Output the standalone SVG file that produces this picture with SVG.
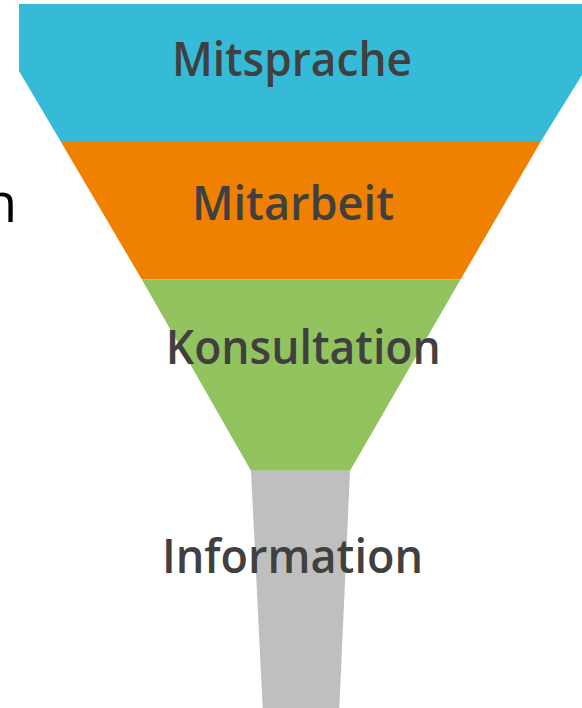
<svg xmlns="http://www.w3.org/2000/svg" width="582" height="708" viewBox="0 0 582 708">
  <style>
    .label { font-family: "Open Sans", "Noto Sans", "Liberation Sans", sans-serif; font-weight: 600; font-size: 47px; fill: #404040; text-anchor: middle; }
    .side { font-family: "Open Sans", "Noto Sans", "Liberation Sans", sans-serif; font-weight: 400; font-size: 54px; fill: #000000; text-anchor: end; }
  </style>
  <rect width="582" height="708" fill="#ffffff"/>

  <!-- cut-off word at the left margin -->
  <text class="side" x="17" y="222">n</text>

  <!-- funnel levels, top to bottom -->
  <g id="mitsprache">
    <polygon points="19,4 582,4 582,75 540.5,142 61,142 19,71" fill="#35BBD7"/>
    <text class="label" x="292" y="76" textLength="240" lengthAdjust="spacingAndGlyphs">Mitsprache</text>
  </g>
  <g id="mitarbeit">
    <polygon points="61,142 540.5,142 460.7,279.3 141.7,279.3" fill="#F08000"/>
    <text class="label" x="293" y="220" textLength="202" lengthAdjust="spacingAndGlyphs">Mitarbeit</text>
  </g>
  <g id="konsultation">
    <polygon points="141.7,279.3 460.7,279.3 350,470.7 251,470.7" fill="#92C35F"/>
    <text class="label" x="303.3" y="364" textLength="275" lengthAdjust="spacingAndGlyphs">Konsultation</text>
  </g>
  <g id="information">
    <polygon points="251,470.7 350,470.7 339.3,708 262.7,708" fill="#BFBFBF"/>
    <text class="label" x="292.5" y="572.7" textLength="261" lengthAdjust="spacingAndGlyphs">Information</text>
  </g>

  <g id="connectors"/>
</svg>
